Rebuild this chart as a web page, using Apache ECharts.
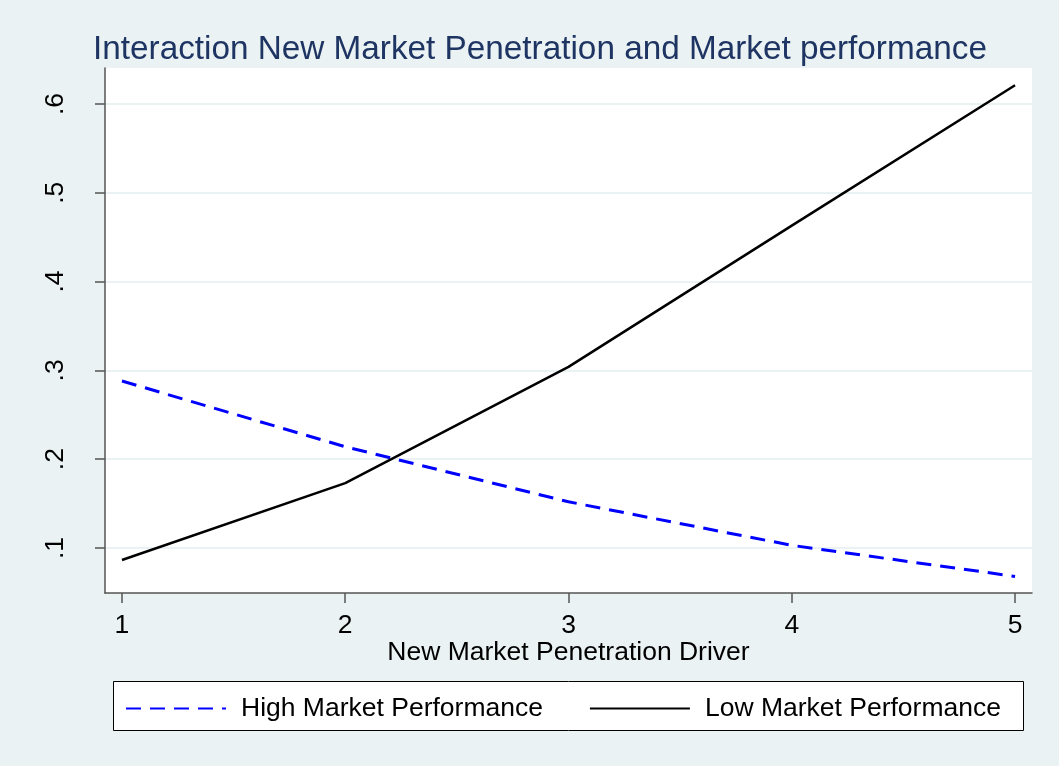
<!DOCTYPE html>
<html>
<head>
<meta charset="utf-8">
<script src="https://cdn.jsdelivr.net/npm/echarts@6/dist/echarts.min.js"></script>
<style>html,body{margin:0;padding:0;background:#EAF2F3;}#c{width:1059px;height:766px;}</style>
</head>
<body>
<div id="c"></div>
<script>
const xValues = [1, 2, 3, 4, 5];
const highPerf = [0.288, 0.214, 0.152, 0.103, 0.068];
const lowPerf = [0.0865, 0.173, 0.304, 0.463, 0.621];
const xTicks = [1, 2, 3, 4, 5];
const yTicks = [0.1, 0.2, 0.3, 0.4, 0.5, 0.6];
const titleText = 'Interaction New Market Penetration and Market performance';
const xName = 'New Market Penetration Driver';
const seriesNames = ['High Market Performance', 'Low Market Performance'];

const FONT = '"Liberation Sans", Arial, sans-serif';
const chart = echarts.init(document.getElementById('c'));
chart.setOption({
  backgroundColor: '#EAF2F3',
  animation: false,
  textStyle: { fontFamily: FONT },
  title: {
    text: titleText, left: 88, top: 28,
    textStyle: { fontFamily: FONT, fontSize: 33.3, fontWeight: 'normal', color: '#1E3463' }
  },
  graphic: [{
    type: 'rect', left: 113, top: 681, z: 0,
    shape: { width: 910, height: 49 },
    style: { fill: '#fff', stroke: '#000', lineWidth: 1 }
  }],
  legend: {
    left: 120, top: 690, itemWidth: 100, itemHeight: 14, itemGap: 46,
    itemStyle: { opacity: 0 },
    textStyle: { fontFamily: FONT, fontSize: 26.5, color: '#000', padding: [0, 0, 0, 10] },
    data: seriesNames,
    z: 5
  },
  grid: {
    left: 105, top: 68, right: 27, bottom: 173,
    show: true, backgroundColor: '#fff', borderWidth: 0
  },
  xAxis: {
    type: 'value', min: 0.924, max: 5.076,
    name: xName, nameLocation: 'middle', nameGap: 46, nameMoveOverlap: false,
    nameTextStyle: { fontFamily: FONT, fontSize: 26.5, color: '#000' },
    axisLine: { show: true, onZero: false, lineStyle: { color: '#555', width: 1.5 } },
    axisTick: { show: true, length: 10, customValues: xTicks, lineStyle: { color: '#555', width: 1.5 } },
    axisLabel: { customValues: xTicks, fontFamily: FONT, fontSize: 26.5, color: '#000', margin: 19 },
    splitLine: { show: false }
  },
  yAxis: {
    type: 'value', min: 0.0493, max: 0.6405,
    axisLine: { show: true, onZero: false, lineStyle: { color: '#555', width: 1.5 } },
    axisTick: { show: true, length: 10, customValues: yTicks, lineStyle: { color: '#555', width: 1.5 } },
    axisLabel: {
      customValues: yTicks, rotate: 90, fontFamily: FONT, fontSize: 26.5, color: '#000', margin: 36,
      formatter: v => String(Math.round(v * 10) / 10).replace(/^0/, '')
    },
    splitLine: { show: true, customValues: yTicks, lineStyle: { color: '#EAF2F3', width: 2 } }
  },
  series: [
    {
      name: seriesNames[0], type: 'line', symbol: 'none',
      data: xValues.map((x, i) => [x, highPerf[i]]),
      lineStyle: { color: '#0000FF', width: 3, type: [15, 9] },
      itemStyle: { color: '#0000FF' }
    },
    {
      name: seriesNames[1], type: 'line', symbol: 'none',
      data: xValues.map((x, i) => [x, lowPerf[i]]),
      lineStyle: { color: '#000', width: 2.5 },
      itemStyle: { color: '#000' }
    }
  ]
});
</script>
</body>
</html>
